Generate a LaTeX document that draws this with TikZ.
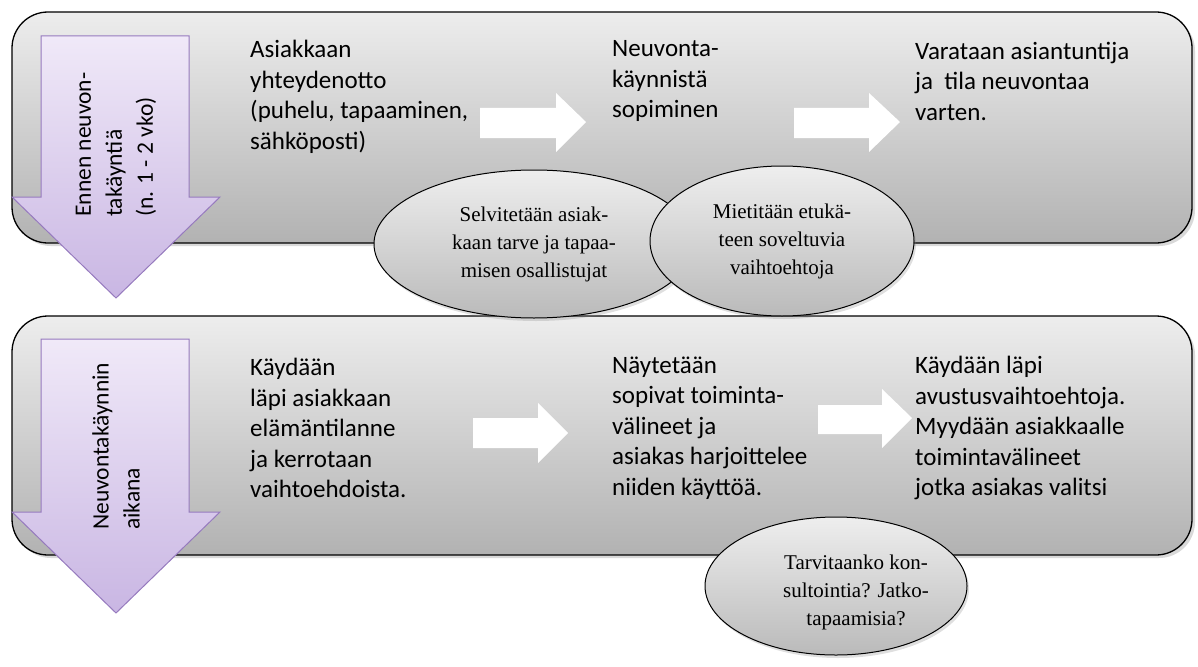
\documentclass[tikz,border=0pt]{standalone}
\usepackage{fontspec}
\setmainfont{Carlito}
\newfontfamily\bubblefont{Liberation Serif}
\usetikzlibrary{shapes.geometric,shadows}

\definecolor{panelTop}{RGB}{237,237,237}
\definecolor{panelBot}{RGB}{178,178,178}
\definecolor{bubbleTop}{RGB}{238,238,238}
\definecolor{bubbleBot}{RGB}{186,186,186}
\definecolor{phaseTop}{RGB}{240,233,248}
\definecolor{phaseBot}{RGB}{201,182,227}
\definecolor{phaseEdge}{RGB}{150,122,190}

\begin{document}
\begin{tikzpicture}[x=1pt,y=-1pt,
  panel/.style={draw=black, line width=1.3pt, rounded corners=36pt,
    top color=panelTop, bottom color=panelBot,
    drop shadow={shadow xshift=3pt, shadow yshift=-3pt, opacity=0.3}},
  phase/.style={draw=phaseEdge, line width=1pt, top color=phaseTop, bottom color=phaseBot},
  flow/.style={fill=white, draw=none},
  steptext/.style={anchor=west, align=left, inner sep=0pt,
    font=\fontsize{25}{30.5}\selectfont},
  phasetext/.style={rotate=90, anchor=west, align=left, inner sep=0pt,
    font=\fontsize{23.5}{31}\selectfont},
  bubble/.style={ellipse, draw=black, line width=1pt, inner sep=0pt,
    top color=bubbleTop, bottom color=bubbleBot, align=center,
    font=\bubblefont\fontsize{21}{28}\selectfont,
    drop shadow={shadow xshift=2pt, shadow yshift=-3pt, opacity=0.25}}
]
\useasboundingbox (0,0) rectangle (1198,666);

% the two phase panels
\path[panel] (12,12) rectangle (1192,243);
\path[panel] (12,316) rectangle (1192,555);

% phase arrows on the left
\path[phase] (41,36) -- (189,36) -- (189,197) -- (220,197) -- (116,298)
  -- (12,197) -- (41,197) -- cycle;
\path[phase] (41,339) -- (189,339) -- (189,512) -- (220,512) -- (116,613)
  -- (12,512) -- (41,512) -- cycle;
\node[phasetext] (phase1) at (116,217) {Ennen neuvon-\\takäyntiä\\(n. 1 - 2 vko)};
\node[phasetext] (phase2) at (116,530) {Neuvontakäynnin\\aikana};

% steps before the visit
\node[steptext] (contact) at (250,97) {Asiakkaan\\yhteydenotto\\(puhelu, tapaaminen,\\sähköposti)};
\node[steptext] (agree) at (612,81) {Neuvonta-\\käynnistä\\sopiminen};
\node[steptext] (book) at (915,81) {Varataan asiantuntija\\ja\ \ tila neuvontaa\\varten.};

% steps during the visit
\node[steptext] (review) at (250,428) {Käydään\\läpi asiakkaan\\elämäntilanne\\ja kerrotaan\\vaihtoehdoista.};
\node[steptext] (show) at (612,428) {Näytetään\\sopivat toiminta-\\välineet ja\\asiakas harjoittelee\\niiden käyttöä.};
\node[steptext] (sell) at (915,428) {Käydään läpi\\avustusvaihtoehtoja.\\Myydään asiakkaalle\\toimintavälineet\\jotka asiakas valitsi};

% white block arrows between the steps
\path[flow] (480,108) -- (556,108) -- (556,93) -- (586,122) -- (556,152) -- (556,138) -- (480,138) -- cycle;
\path[flow] (794,108) -- (869,108) -- (869,93) -- (900,122) -- (869,152) -- (869,138) -- (794,138) -- cycle;
\path[flow] (473,418) -- (538,418) -- (538,403) -- (568,433) -- (538,463) -- (538,448) -- (473,448) -- cycle;
\path[flow] (818,405) -- (882,405) -- (882,389) -- (912,418) -- (882,448) -- (882,434) -- (818,434) -- cycle;

% side notes
\node[bubble, minimum width=320pt, minimum height=148pt] (need) at (534,244)
  {Selvitetään asiak-\\kaan tarve ja tapaa-\\misen osallistujat};
\node[bubble, minimum width=264pt, minimum height=150pt] (options) at (782,241)
  {Mietitään etukä-\\teen soveltuvia\\vaihtoehtoja};
\node[bubble, minimum width=262pt, minimum height=138pt] (followup) at (836,586) {};
\node[align=center, inner sep=0pt, font=\bubblefont\fontsize{21}{28}\selectfont]
  (followuptext) at (856,592) {Tarvitaanko kon-\\sultointia? Jatko-\\tapaamisia?};
\end{tikzpicture}
\end{document}
